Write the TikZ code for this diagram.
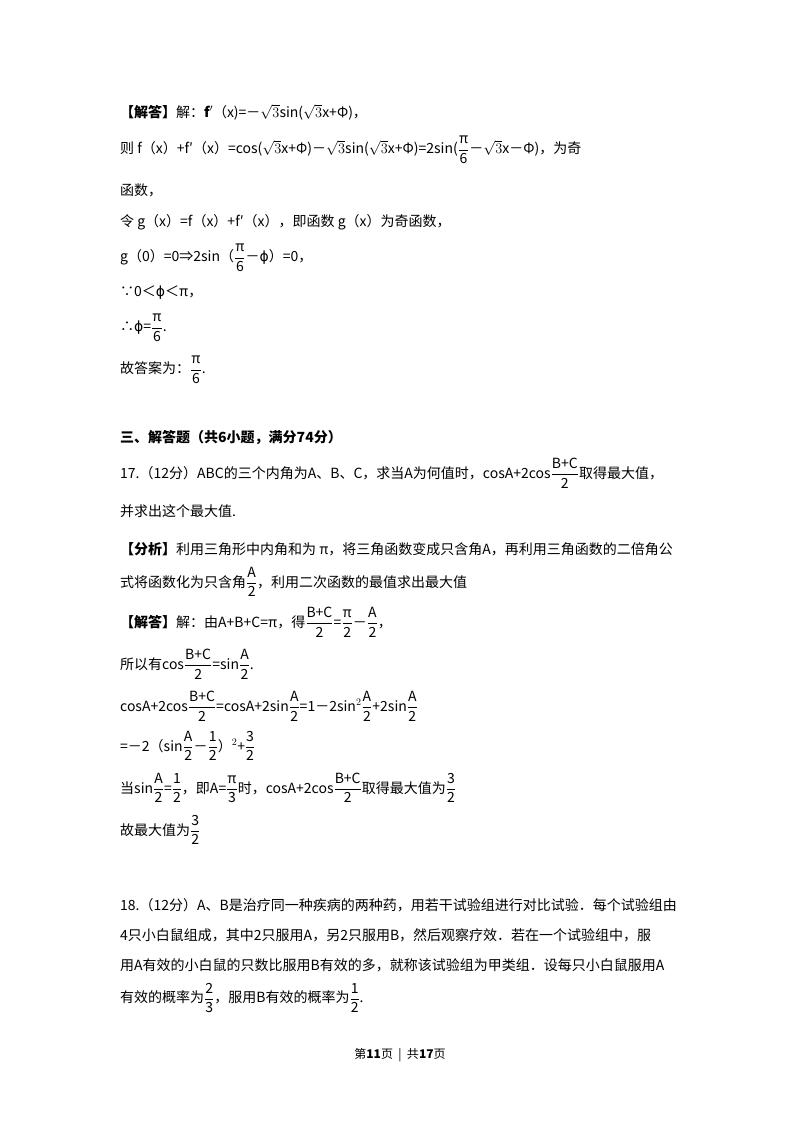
\documentclass[tikz,border=0pt]{standalone}
\usepackage{fontspec}
\setmainfont{Noto Sans CJK SC}
\newfontfamily\djvfont{DejaVu Sans}
\begin{document}
\begin{tikzpicture}[x=1pt,y=1pt,
  ln/.style={anchor=west,inner sep=0pt,font=\fontsize{14}{16}\selectfont}]
\useasboundingbox[fill=white] (0,0) rectangle (800,-1132);
\def\f#1#2{$\displaystyle\frac{\mbox{#1}}{\mbox{#2}}$}
\def\ph{{\djvfont ϕ}}
\node[ln] (l1) at (120,-112) {\textbf{【解答】}解：$\mathbf{f'}$（x)=－$\sqrt3$sin($\sqrt3$x+Φ)，};
\node[ln] (l2) at (120,-150) {则 f（x）+f′（x）=cos($\sqrt3$x+Φ)－$\sqrt3$sin($\sqrt3$x+Φ)=2sin(\f{π}{6}－$\sqrt3$x－Φ)，为奇};
\node[ln] (l3) at (120,-190) {函数，};
\node[ln] (l4) at (120,-222) {令 g（x）=f（x）+f′（x），即函数 g（x）为奇函数，};
\node[ln] (l5) at (120,-258) {g（0）=0⇒2sin（\f{π}{6}－\ph）=0，};
\node[ln] (l6) at (120,-293) {∵0＜\ph＜π，};
\node[ln] (l7) at (120,-328) {∴\ph=\f{π}{6}.};
\node[ln] (l8) at (120,-370) {故答案为：\f{π}{6}.};
\node[ln] (l9) at (120,-438) {\textbf{三、解答题（共6小题，满分74分）}};
\node[ln] (l10) at (120,-473) {17.（12分）ABC的三个内角为A、B、C，求当A为何值时，cosA+2cos\f{B+C}{2}取得最大值，};
\node[ln] (l11) at (120,-511) {并求出这个最大值.};
\node[ln] (l12) at (120,-549) {\textbf{【分析】}利用三角形中内角和为 π，将三角函数变成只含角A，再利用三角函数的二倍角公};
\node[ln] (l13) at (120,-582) {式将函数化为只含角\f{A}{2}，利用二次函数的最值求出最大值};
\node[ln] (l14) at (120,-622) {\textbf{【解答】}解：由A+B+C=π，得\f{B+C}{2}=\f{π}{2}－\f{A}{2}，};
\node[ln] (l15) at (120,-664) {所以有cos\f{B+C}{2}=sin\f{A}{2}.};
\node[ln] (l16) at (120,-706) {cosA+2cos\f{B+C}{2}=cosA+2sin\f{A}{2}=1－2sin$^2$\f{A}{2}+2sin\f{A}{2}};
\node[ln] (l17) at (120,-746) {=－2（sin\f{A}{2}－\f{1}{2}）$^2$+\f{3}{2}};
\node[ln] (l18) at (120,-788) {当sin\f{A}{2}=\f{1}{2}，即A=\f{π}{3}时，cosA+2cos\f{B+C}{2}取得最大值为\f{3}{2}};
\node[ln] (l19) at (120,-830) {故最大值为\f{3}{2}};
\node[ln] (l20) at (120,-905) {18.（12分）A、B是治疗同一种疾病的两种药，用若干试验组进行对比试验．每个试验组由};
\node[ln] (l21) at (120,-935) {4只小白鼠组成，其中2只服用A，另2只服用B，然后观察疗效．若在一个试验组中，服};
\node[ln] (l22) at (120,-965) {用A有效的小白鼠的只数比服用B有效的多，就称该试验组为甲类组．设每只小白鼠服用A};
\node[ln] (l23) at (120,-998) {有效的概率为\f{2}{3}，服用B有效的概率为\f{1}{2}.};
\node[inner sep=0pt,font=\fontsize{12}{14}\selectfont] (ft) at (400,-1055) {第\textbf{11}页 \ | \ 共\textbf{17}页};
\end{tikzpicture}
\end{document}
